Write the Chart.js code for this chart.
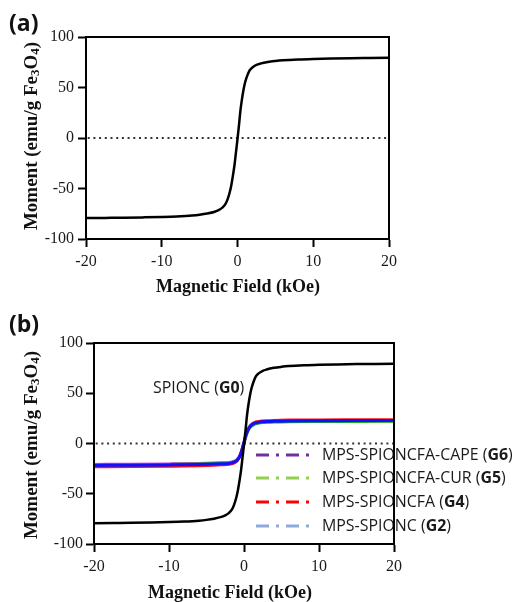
<!DOCTYPE html>
<html>
<head>
<meta charset="utf-8">
<script src="https://cdn.jsdelivr.net/npm/chart.js@4.4.1/dist/chart.umd.min.js"></script>
<style>
html,body{margin:0;padding:0;background:#fff;}
#wrap{position:relative;width:515px;height:602px;overflow:hidden;background:#fff;}
.pane{position:absolute;left:0;width:515px;}
.lab{position:absolute;left:9px;font:bold 23px "Open Sans",sans-serif;line-height:1;color:#111;}
</style>
</head>
<body>
<div id="wrap">
  <div class="pane" style="top:0;height:300px"><canvas id="ca" width="515" height="300"></canvas></div>
  <div class="pane" style="top:300px;height:302px"><canvas id="cb" width="515" height="302"></canvas></div>
  <div class="lab" style="top:11px">(a)</div>
  <div class="lab" style="top:312px">(b)</div>
</div>
<script>
// ---------------- data ----------------
const xTickValues = [-20, -10, 0, 10, 20];
const xTickLabels = ['-20', '-10', '0', '10', '20'];
const yTickValues = [-100, -50, 0, 50, 100];
const yTickLabels = ['-100', '-50', '0', '50', '100'];

const xAxisTitle = 'Magnetic Field (kOe)';
const yAxisTitleParts = ['Moment (emu/g Fe', '3', 'O', '4', ')'];

// SPIONC (G0)
const fieldG0 = [-20, -17.5, -15, -12.5, -10, -8, -6, -5, -4, -3, -2.5, -2, -1.6, -1.3, -1.0, -0.8, -0.6, -0.4, -0.2, 0,
                 0.2, 0.4, 0.6, 0.8, 1.0, 1.3, 1.6, 2, 2.5, 3, 4, 5, 6, 8, 10, 12.5, 15, 17.5, 20];
const momentG0 = [-79.3, -79.1, -78.9, -78.6, -78.2, -77.7, -76.8, -76.0, -74.8, -73.0, -71.5, -69.0, -65.5, -60.5, -53.0, -46.0, -37.0, -27.0, -14.0, -1.0,
                  13.0, 28.0, 39.0, 48.0, 55.0, 62.0, 67.0, 70.0, 72.3, 73.6, 75.3, 76.3, 77.0, 77.8, 78.3, 78.7, 79.0, 79.2, 79.4];

// coated samples
const fieldCoated = [-20, -15, -10, -6, -4, -3, -2, -1.6, -1.3, -1, -0.8, -0.6, -0.4, -0.2, 0,
                     0.2, 0.4, 0.6, 0.8, 1, 1.3, 1.6, 2, 2.5, 3, 4, 6, 10, 15, 20];
const momentG2 = [-21.8, -21.6, -21.3, -20.9, -20.5, -20.2, -19.8, -19.3, -18.6, -17.3, -15.6, -13.2, -9.5, -4.5, 1.0,
                  6.8, 11.3, 14.6, 16.8, 18.3, 19.8, 20.6, 21.2, 21.6, 21.9, 22.2, 22.5, 22.7, 22.9, 23.0];
const momentG4 = [-23.2, -23.0, -22.6, -22.1, -21.6, -21.2, -20.7, -20.1, -19.3, -17.9, -16.1, -13.6, -9.8, -4.7, 1.0,
                  7.0, 11.7, 15.1, 17.4, 19.0, 20.5, 21.4, 22.0, 22.4, 22.7, 23.0, 23.3, 23.5, 23.6, 23.7];
const momentG5 = [-21.3, -21.1, -20.8, -20.4, -20.0, -19.7, -19.3, -18.8, -18.2, -17.0, -15.5, -13.3, -10.0, -5.3, 0.0,
                  5.6, 10.2, 13.5, 15.8, 17.3, 18.8, 19.7, 20.3, 20.8, 21.1, 21.4, 21.7, 21.9, 22.0, 22.1];
const momentG6 = [-20.8, -20.6, -20.3, -19.9, -19.5, -19.2, -18.8, -18.3, -17.6, -16.4, -14.8, -12.5, -9.0, -4.2, 1.0,
                  6.6, 11.0, 14.3, 16.5, 18.0, 19.5, 20.3, 20.9, 21.3, 21.6, 21.9, 22.2, 22.4, 22.6, 22.7];

const labelG0 = ['SPIONC', 'G0'];
const legendNames = ['MPS-SPIONCFA-CAPE', 'MPS-SPIONCFA-CUR', 'MPS-SPIONCFA', 'MPS-SPIONC'];
const legendCodes = ['G6', 'G5', 'G4', 'G2'];
const legendColors = ['#7030a0', '#92d050', '#ff0000', '#8eaadb'];

// ---------------- helpers ----------------
const SERIF = '"Liberation Serif", "Times New Roman", serif';
const SANS = '"Open Sans", "Noto Sans", sans-serif';
const toXY = (xs, ys) => xs.map((x, i) => ({x: x, y: ys[i]}));

function richText(ctx, parts, x, y, size) {
  let cx = x;
  for (const [t, b] of parts) {
    ctx.font = (b ? 'bold ' : '') + size + 'px ' + SANS;
    ctx.fillText(t, cx, y);
    cx += ctx.measureText(t).width;
  }
  return cx - x;
}
function richWidth(ctx, parts, size) {
  let w = 0;
  for (const [t, b] of parts) {
    ctx.font = (b ? 'bold ' : '') + size + 'px ' + SANS;
    w += ctx.measureText(t).width;
  }
  return w;
}

const decorPlugin = {
  id: 'decor',
  afterDatasetsDraw(chart, args, o) {
    const ctx = chart.ctx;
    if (!o.legend) return;
    ctx.save();
    ctx.fillStyle = '#1a1a1a';
    ctx.textBaseline = 'middle';
    ctx.textAlign = 'left';
    const base = 16;
    const refParts = [[legendNames[0] + ' (', false], [legendCodes[0], true], [')', false]];
    const fs = base * o.legendTextWidth / richWidth(ctx, refParts, base);
    richText(ctx, [[labelG0[0] + ' (', false], [labelG0[1], true], [')', false]], o.g0x, o.g0y, fs);
    for (let i = 0; i < legendNames.length; i++) {
      const y = o.legendRows[i];
      ctx.save();
      ctx.strokeStyle = legendColors[i];
      ctx.lineWidth = 3;
      ctx.setLineDash([13, 7, 3, 7]);
      ctx.beginPath();
      ctx.moveTo(o.legendX1, y);
      ctx.lineTo(o.legendX2, y);
      ctx.stroke();
      ctx.restore();
      richText(ctx, [[legendNames[i] + ' (', false], [legendCodes[i], true], [')', false]], o.legendTextX, y, fs);
    }
    ctx.restore();
  },
  afterDraw(chart, args, o) {
    const ctx = chart.ctx;
    const a = chart.chartArea;
    ctx.save();
    ctx.strokeStyle = '#000';
    ctx.lineWidth = 2;
    ctx.strokeRect(a.left, a.top, a.right - a.left, a.bottom - a.top);
    ctx.fillStyle = '#111';
    ctx.font = 'bold 18px ' + SERIF;
    ctx.textAlign = 'center';
    ctx.textBaseline = 'middle';
    ctx.fillText(xAxisTitle, o.xTitleX, o.xTitleY);
    const big = 'bold 19px ' + SERIF, small = 'bold 13px ' + SERIF;
    const fonts = [big, small, big, small, big];
    const shifts = [0, 4, 0, 4, 0];
    let total = 0;
    const widths = yAxisTitleParts.map((t, i) => { ctx.font = fonts[i]; const w = ctx.measureText(t).width; total += w; return w; });
    ctx.translate(o.yTitleX, o.yTitleY);
    ctx.rotate(-Math.PI / 2);
    ctx.textAlign = 'left';
    let cx = -total / 2;
    yAxisTitleParts.forEach((t, i) => {
      ctx.font = fonts[i];
      ctx.fillText(t, cx, shifts[i]);
      cx += widths[i];
    });
    ctx.restore();
  }
};

function makeChart(id, H, area, decor, datasets, tickLen, yPad) {
  const W = 515;
  const xAxisH = 50;
  return new Chart(document.getElementById(id), {
    type: 'line',
    data: {datasets: datasets},
    plugins: [decorPlugin],
    options: {
      responsive: false,
      animation: false,
      events: [],
      layout: {padding: {left: 0, top: area.top, right: W - area.right, bottom: H - area.bottom - xAxisH}},
      plugins: {legend: {display: false}, tooltip: {enabled: false}, decor: decor},
      elements: {point: {radius: 0}},
      scales: {
        x: {
          type: 'linear', min: -20, max: 20,
          afterFit: s => { s.height = xAxisH; },
          afterBuildTicks: s => { s.ticks = xTickValues.map(v => ({value: v})); },
          ticks: {
            font: {family: SERIF, size: 16}, color: '#1a1a1a', padding: 5, maxRotation: 0, autoSkip: false,
            callback: v => xTickLabels[xTickValues.indexOf(v)]
          },
          grid: {drawOnChartArea: false, drawTicks: true, tickLength: tickLen, tickWidth: 2, tickColor: '#000'},
          border: {display: true, color: '#000', width: 2}
        },
        y: {
          type: 'linear', min: -100, max: 100,
          afterFit: s => { s.width = area.left; },
          afterBuildTicks: s => { s.ticks = yTickValues.map(v => ({value: v})); },
          ticks: {
            font: {family: SERIF, size: 16}, color: '#1a1a1a', padding: yPad, autoSkip: false,
            callback: v => yTickLabels[yTickValues.indexOf(v)]
          },
          grid: {drawOnChartArea: false, drawTicks: true, tickLength: tickLen, tickWidth: 2, tickColor: '#000'},
          border: {display: true, color: '#000', width: 2}
        }
      }
    }
  });
}

const zeroLine = () => ({
  data: [{x: -20, y: 0}, {x: 20, y: 0}],
  borderColor: '#333', borderWidth: 2, borderDash: [2, 3.7], borderDashOffset: 4, pointRadius: 0, order: 10
});
const curve = (ys, xs, color, w, order) => ({
  data: toXY(xs, ys), borderColor: color, borderWidth: w, pointRadius: 0,
  cubicInterpolationMode: 'monotone', order: order
});

// panel (a)
makeChart('ca', 300, {left: 86, right: 389, top: 37, bottom: 239}, {
  xTitleX: 238, xTitleY: 287, yTitleX: 32, yTitleY: 136
}, [
  zeroLine(),
  curve(momentG0, fieldG0, '#000', 2.5, 1)
], 8, 4);

// panel (b)
makeChart('cb', 302, {left: 94, right: 394, top: 43, bottom: 244}, {
  xTitleX: 230, xTitleY: 293, yTitleX: 32, yTitleY: 145,
  legend: true, legendTextWidth: 191,
  legendRows: [155, 178, 202, 226], legendX1: 256, legendX2: 312, legendTextX: 322,
  g0x: 153, g0y: 88
}, [
  zeroLine(),
  curve(momentG0, fieldG0, '#000', 2.5, 1),
  curve(momentG2, fieldCoated, '#1010ff', 3, 2),
  curve(momentG4, fieldCoated, '#ff1010', 3, 3),
  curve(momentG5, fieldCoated, '#22aa22', 3, 4),
  curve(momentG6, fieldCoated, '#cc33ee', 3, 5)
], 8, 3);
</script>
</body>
</html>
